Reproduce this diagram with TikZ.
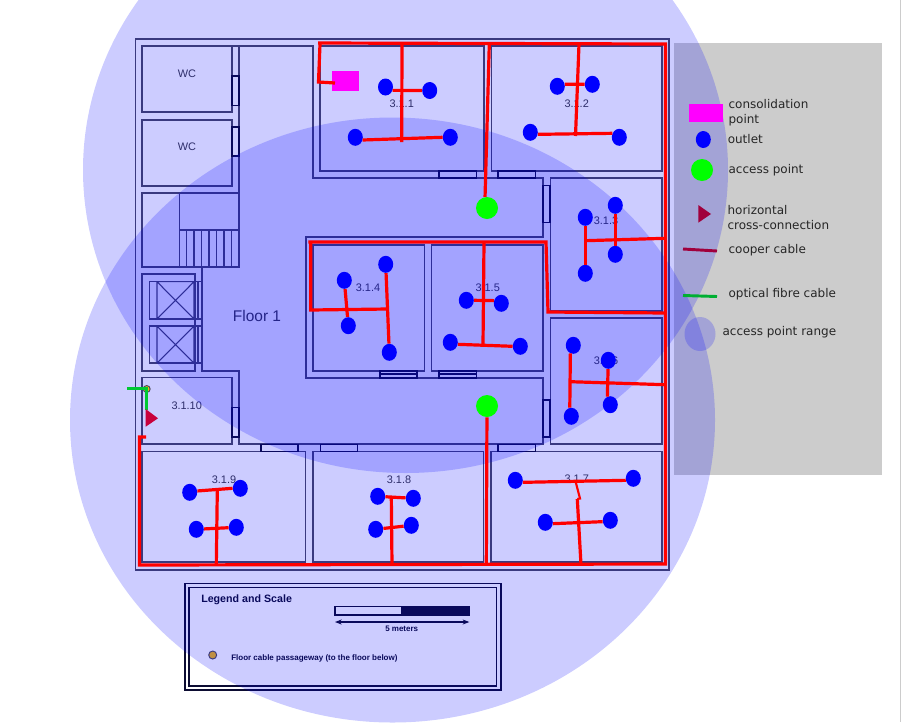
\documentclass[tikz,border=0pt]{standalone}
\usepackage{fontspec}
\setmainfont{Liberation Sans}
\newfontfamily\keyfont{DejaVu Sans}
\usepackage{xcolor}
\definecolor{wallgray}{RGB}{72,72,96}
\definecolor{doordark}{RGB}{12,12,50}
\definecolor{labelgray}{RGB}{58,58,70}
\definecolor{panelgray}{RGB}{204,204,204}
\definecolor{cablered}{RGB}{255,0,0}
\definecolor{fibregreen}{RGB}{0,200,50}
\definecolor{hccred}{RGB}{200,0,60}
\definecolor{keycrimson}{RGB}{160,0,60}
\definecolor{keygreen}{RGB}{0,175,50}
\definecolor{passgold}{RGB}{240,180,20}
\definecolor{conspink}{RGB}{255,0,255}
\usetikzlibrary{arrows.meta, positioning, shapes.geometric}

\begin{document}
\begin{tikzpicture}[
    x=0.75pt, y=-0.75pt,
    wall/.style={draw=wallgray, line width=0.8pt},
    door/.style={draw=doordark, line width=0.8pt},
    roomlabel/.style={font=\fontsize{8.2pt}{10pt}\selectfont, text=labelgray, inner sep=0pt},
    boldlabel/.style={font=\bfseries\fontsize{6pt}{8pt}\selectfont, text=doordark, inner sep=0pt},
    keylabel/.style={font=\keyfont\fontsize{9pt}{11.25pt}\selectfont, text=black!85,
                     anchor=west, align=left, inner sep=0pt},
    cable/.style={draw=cablered, line width=2.4pt},
    fibre/.style={draw=fibregreen, line width=2.2pt},
    outlet/.style={ellipse, fill=blue, minimum width=11.25pt, minimum height=12.75pt, inner sep=0pt},
    apoint/.style={circle, fill=green, minimum size=16.5pt, inner sep=0pt},
    conspoint/.style={rectangle, fill=conspink, minimum width=20.25pt, minimum height=15pt, inner sep=0pt},
    aprange/.style={fill=blue, fill opacity=0.2},
]
\useasboundingbox (0,0) rectangle (902,722);
\clip (0,0) rectangle (902,722);
\fill[white] (0,0) rectangle (902,722);
\fill[panelgray] (900,0) rectangle (901.2,722);

% ===== FLOOR PLAN =====
\draw[wall] (135.5,39) rectangle (669,570);

% WCs and stairs
\draw[wall] (142,46) rectangle (232,112);
\draw[wall] (142,120) rectangle (232,186);
\node[roomlabel] (wc1) at (187,74) {WC};
\node[roomlabel] (wc2) at (187,146.5) {WC};
\draw[wall] (142,193) rectangle (239,267);
\draw[wall] (179.3,193) -- (179.3,267);
\draw[wall] (179.3,230) -- (239,230);
\draw[wall] (186.7,230) -- (186.7,267) (194,230) -- (194,267) (201.7,230) -- (201.7,267)
      (209,230) -- (209,267) (216.7,230) -- (216.7,267) (224,230) -- (224,267) (231.7,230) -- (231.7,267);

% lifts
\draw[wall] (142,274) rectangle (195,371);
\draw[wall] (149.7,281.7) rectangle (201.7,319);
\draw[wall] (157,281.7) rectangle (194,319) (157,281.7) -- (194,319) (194,281.7) -- (157,319);
\draw[wall] (149.7,326) rectangle (201.7,363);
\draw[wall] (157,326) rectangle (194,363) (157,326) -- (194,363) (194,326) -- (157,363);
\draw[wall] (198,281.7) -- (198,319) (198,326) -- (198,363);

% corridor outline
\draw[wall] (225,46) -- (313,46) -- (313,178) -- (543,178) -- (543,237) -- (306,237) -- (306,378)
      -- (543,378) -- (543,444) -- (239,444) -- (239,371) -- (202,371) -- (202,267);
\draw[wall] (239,46) -- (239,193);

% rooms
\draw[wall] (320,46) rectangle (484,171);
\draw[wall] (491.7,46) rectangle (662,171);
\draw[wall] (550.3,178) rectangle (662,311);
\draw[wall] (313,245) rectangle (424.7,371);
\draw[wall] (431.7,245) rectangle (543,371);
\draw[wall] (550.3,318) rectangle (662,444);
\draw[wall] (142,377.7) rectangle (232,444);
\draw[wall] (142,451.7) rectangle (305.7,562);
\draw[wall] (313,451.7) rectangle (483.3,562);
\draw[wall] (491,451.7) rectangle (662,562);

% doors
\draw[door] (232,76) rectangle (239,105.7);
\draw[door] (232,127) rectangle (239,156);
\draw[door] (232,407.7) rectangle (239,437);
\draw[door] (439,171) rectangle (476.7,178);
\draw[door] (498,171) rectangle (535.7,178);
\draw[door] (543,185.7) rectangle (550,222.7);
\draw[door] (543,400) rectangle (550,437);
\draw[door] (380,371) rectangle (417,378) (380,374) -- (417,374);
\draw[door] (439,371) rectangle (476.7,378) (439,374) -- (476.7,374);
\draw[door] (261,444.5) rectangle (298,451.5);
\draw[door] (320.7,444.5) rectangle (357.7,451.5);
\draw[door] (498,444.5) rectangle (535.7,451.5);

% room names
\node[roomlabel] (r311) at (401.7,104) {3.1.1};
\node[roomlabel] (r312) at (576.7,104) {3.1.2};
\node[roomlabel] (r313) at (606,221) {3.1.3};
\node[roomlabel] (r314) at (368,288) {3.1.4};
\node[roomlabel] (r315) at (487.7,288) {3.1.5};
\node[roomlabel] (r316) at (606,361) {3.1.6};
\node[roomlabel] (r317) at (576.7,479) {3.1.7};
\node[roomlabel] (r318) at (399,480) {3.1.8};
\node[roomlabel] (r319) at (224,479.7) {3.1.9};
\node[roomlabel] (r3110) at (186.7,405.7) {3.1.10};
\node[roomlabel, font=\fontsize{11.6pt}{13pt}\selectfont] (floor) at (257,316) {Floor 1};

% ===== PLAN LEGEND AND SCALE =====
\draw[wall, draw=doordark, line width=1pt] (185,583.3) rectangle (501,690);
\draw[wall, draw=doordark, line width=1pt] (189,587.3) rectangle (496.7,686);
\node[boldlabel, font=\bfseries\fontsize{8pt}{10pt}\selectfont, anchor=west] (legtitle) at (201,600) {Legend and Scale};
\draw[door, fill=white] (335,606.7) rectangle (401.7,615);
\draw[door, fill=doordark] (401.7,606.7) rectangle (469.3,615);
\coordinate (scaleL) at (335,622);
\coordinate (scaleR) at (469.3,622);
\draw[{Stealth[length=5pt]}-{Stealth[length=5pt]}, doordark, line width=0.8pt] (scaleL) -- (scaleR);
\node[boldlabel] (scaletxt) at (401.7,629.2) {5 meters};
\node[circle, fill=passgold, draw=wallgray, line width=0.7pt, minimum size=6pt, inner sep=0pt] (passkey) at (212.7,655) {};
\node[boldlabel, anchor=west] (passtxt) at (231,658) {Floor cable passageway (to the floor below)};

% ===== KEY PANEL AND RANGES =====
\fill[panelgray] (674,43) rectangle (881.5,475);
\fill[aprange] (405.5,170) ellipse [x radius=322.5, y radius=303];
\fill[aprange] (392.5,420) ellipse [x radius=322.5, y radius=302.5];

% ===== CABLES =====
\coordinate (ta) at (318,43);
\coordinate (tb) at (665.5,44);
\coordinate (tc) at (665.5,564);
\coordinate (td) at (139.5,565);
\coordinate (te) at (139.5,437);
\coordinate (tf) at (146,437);
\draw[cable] (ta) -- (tb) -- (tc) -- (td) -- (te) -- (tf);

% consolidation point
\node[conspoint] (cons) at (345.5,81) {};
\coordinate (ca) at (320,44);
\coordinate (cb) at (318.5,82);
\draw[cable] (ca) -- (cb) -- (335,83);

% room 3.1.1
\node[outlet] (o1a) at (385.5,87) {};
\node[outlet] (o1b) at (429.7,90.5) {};
\node[outlet] (o1c) at (355.3,137.3) {};
\node[outlet] (o1d) at (450.3,137.3) {};
\coordinate (j1a) at (402,44);
\coordinate (j1b) at (401.7,142);
\draw[cable] (o1a.-25) -- (o1b.west);
\draw[cable] (o1c.-20) -- (o1d.west);
\draw[cable] (j1a) -- (j1b);

% room 3.1.2
\node[outlet] (o2a) at (557.3,86.3) {};
\node[outlet] (o2b) at (592.3,84.3) {};
\node[outlet] (o2c) at (530.3,132.3) {};
\node[outlet] (o2d) at (619.3,137.3) {};
\coordinate (j2a) at (579,44);
\coordinate (j2b) at (575.5,136);
\draw[cable] (o2a.15) -- (o2b.west);
\draw[cable] (o2c.-15) -- (o2d.150);
\draw[cable] (j2a) -- (j2b);

% upper access point
\node[apoint] (ap1) at (487,208) {};
\coordinate (j3a) at (489.3,44);
\draw[cable] (j3a) -- (ap1.100);

% room 3.1.3
\node[outlet] (o3a) at (585.3,217.3) {};
\node[outlet] (o3b) at (615.3,205.3) {};
\node[outlet] (o3c) at (615.3,254.3) {};
\node[outlet] (o3d) at (585.3,273.3) {};
\coordinate (j4a) at (585,240.7);
\coordinate (j4b) at (665.5,238.3);
\draw[cable] (o3a) -- (o3d);
\draw[cable] (o3b) -- (o3c);
\draw[cable] (j4a) -- (j4b);

% middle run with rooms 3.1.4 and 3.1.5
\coordinate (ma) at (308.3,242);
\coordinate (mb) at (546,242);
\coordinate (mc) at (548,312);
\coordinate (md) at (665.5,313);
\draw[cable] (ma) -- (mb) -- (mc) -- (md);
\coordinate (me) at (310.7,242);
\coordinate (mf) at (310.7,310);
\coordinate (mg) at (387.5,309);
\draw[cable] (me) -- (mf) -- (mg);

\node[outlet] (o4a) at (385.7,264.3) {};
\node[outlet] (o4b) at (344.3,280.3) {};
\node[outlet] (o4c) at (348.3,325.7) {};
\node[outlet] (o4d) at (389.3,352.3) {};
\draw[cable] (o4a) -- (o4d);
\draw[cable] (o4b) -- (o4c);

\node[outlet] (o5a) at (466.3,300.3) {};
\node[outlet] (o5b) at (501.3,303.3) {};
\node[outlet] (o5c) at (450.3,342.3) {};
\node[outlet] (o5d) at (520.3,346.3) {};
\coordinate (j5a) at (484,242);
\coordinate (j5b) at (483,345);
\draw[cable] (o5a.east) -- (o5b.160);
\draw[cable] (o5c.-15) -- (o5d.west);
\draw[cable] (j5a) -- (j5b);

% room 3.1.6
\node[outlet] (o6a) at (573.3,345.3) {};
\node[outlet] (o6b) at (608.3,360.3) {};
\node[outlet] (o6c) at (610.3,404.7) {};
\node[outlet] (o6d) at (571.3,416.3) {};
\coordinate (j6a) at (570.5,381.7);
\coordinate (j6b) at (665.5,384.7);
\draw[cable] (o6a.-110) -- (o6d.100);
\draw[cable] (o6b) -- (o6c.110);
\draw[cable] (j6a) -- (j6b);

% lower access point
\node[apoint] (ap2) at (487,406) {};
\coordinate (j7a) at (486.3,565);
\draw[cable] (ap2) -- (j7a);

% room 3.1.7
\node[outlet] (o7a) at (515.3,480.3) {};
\node[outlet] (o7b) at (633.3,478.3) {};
\node[outlet] (o7c) at (545.3,522.3) {};
\node[outlet] (o7d) at (610.3,520.3) {};
\coordinate (j8a) at (581,565);
\coordinate (j8b) at (577.3,499);
\coordinate (j8c) at (580,498.5);
\coordinate (j8d) at (575.7,482);
\draw[cable] (o7a.-15) -- (o7b.195);
\draw[cable] (o7c.-10) -- (o7d.190);
\draw[cable] (j8a) -- (j8b);
\draw[draw=cablered, line width=1.6pt] (j8b) -- (j8c) -- (j8d);

% room 3.1.8
\node[outlet] (o8a) at (377.7,496.3) {};
\node[outlet] (o8b) at (413.3,498.3) {};
\node[outlet] (o8c) at (375.7,529.3) {};
\node[outlet] (o8d) at (411.3,525.3) {};
\coordinate (j9a) at (391.3,496.5);
\coordinate (j9b) at (392,565);
\draw[cable] (o8a) -- (o8b);
\draw[cable] (o8c) -- (o8d);
\draw[cable] (j9a) -- (j9b);

% room 3.1.9
\node[outlet] (o9a) at (189.7,492.3) {};
\node[outlet] (o9b) at (240.3,488.3) {};
\node[outlet] (o9c) at (196.3,529.3) {};
\node[outlet] (o9d) at (236.3,527.3) {};
\coordinate (j0a) at (217.3,490);
\coordinate (j0b) at (216.3,565);
\draw[cable] (o9a.10) -- (o9b.west);
\draw[cable] (o9c) -- (o9d);
\draw[cable] (j0a) -- (j0b);

% cross-connection and fibre
\coordinate (fa) at (127.3,388.7);
\coordinate (fb) at (146.7,388.7);
\coordinate (fc) at (146.7,410);
\node[circle, fill=passgold, draw=wallgray, line width=0.7pt, minimum size=5.2pt, inner sep=0pt] (pass) at (146.7,389) {};
\draw[fibre] (fa) -- (fb) -- (fc);
\fill[hccred] (145.7,409) -- (158,418.3) -- (145.7,426.7) -- cycle;

% ===== KEY =====
\node[conspoint, minimum width=25.5pt, minimum height=13.3pt] (kcons) at (706,113) {};
\node[keylabel] (tcons) at (728.3,113) {consolidation\\point};
\node[outlet] (kout) at (703.3,139.5) {};
\node[keylabel] (tout) at (727.5,139) {outlet};
\node[apoint] (kap) at (702,170) {};
\node[keylabel] (tap) at (728.3,170.5) {access point};
\fill[keycrimson] (698.3,205) -- (711,214) -- (698.3,222.7) -- cycle;
\node[keylabel] (thcc) at (727.3,217.5) {horizontal\\cross-connection};
\coordinate (kca) at (683,249);
\coordinate (kcb) at (717,251);
\draw[draw=keycrimson, line width=2.2pt] (kca) -- (kcb);
\node[keylabel] (tca) at (728.3,250.5) {cooper cable};
\coordinate (kfa) at (683,295.5);
\coordinate (kfb) at (717,296.5);
\draw[draw=keygreen, line width=2.2pt] (kfa) -- (kfb);
\node[keylabel] (tfi) at (728.3,294.5) {optical fibre cable};
\fill[aprange] (700,334) ellipse [x radius=15.5, y radius=17];
\node[keylabel] (tra) at (722.3,332.5) {access point range};

\end{tikzpicture}
\end{document}
